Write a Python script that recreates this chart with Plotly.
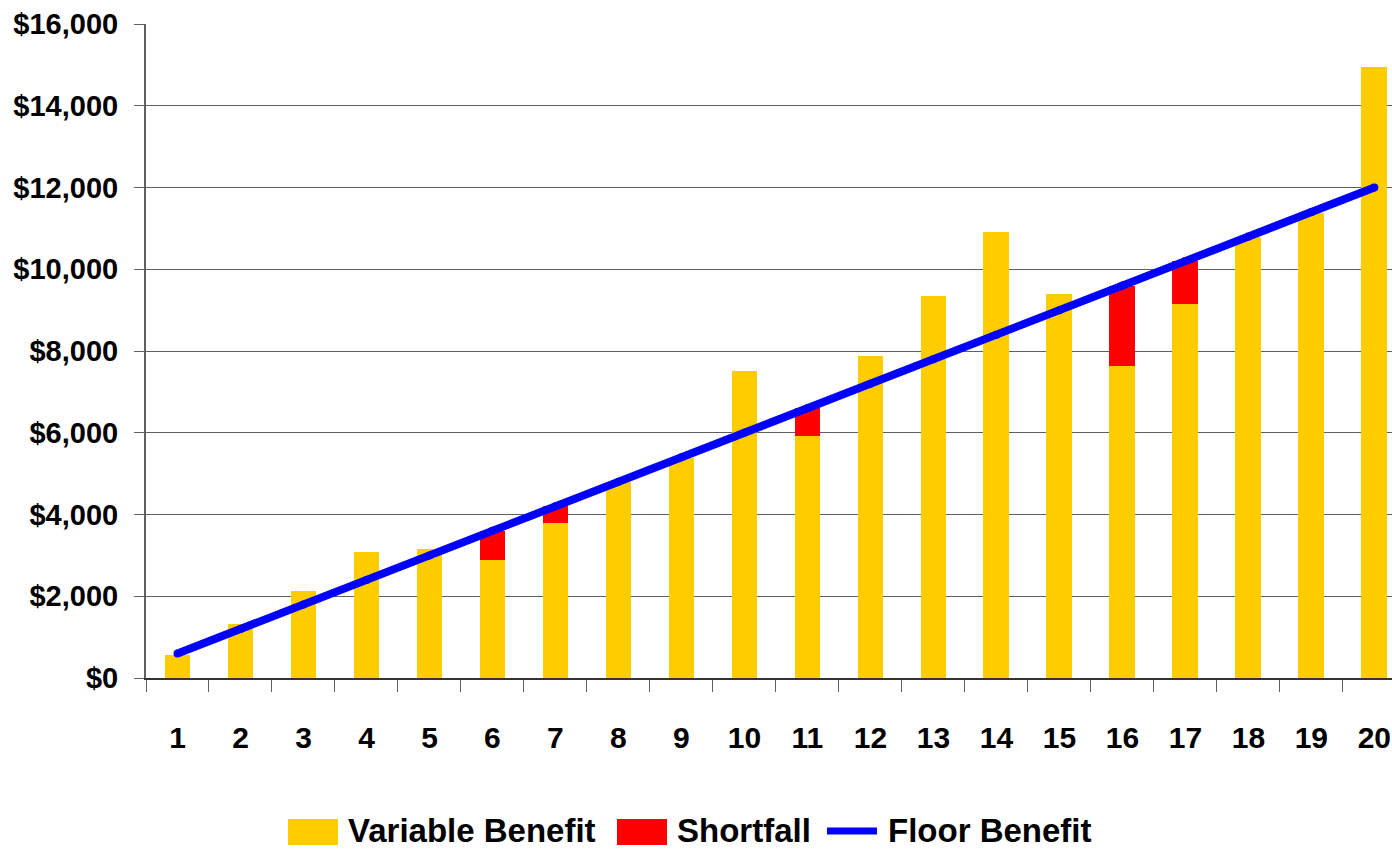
import plotly.graph_objects as go

# Benefit schedule by year
years = [str(i) for i in range(1, 21)]
floor_benefit = [600, 1200, 1800, 2400, 3000, 3600, 4200, 4800, 5400, 6000,
                 6600, 7200, 7800, 8400, 9000, 9600, 10200, 10800, 11400, 12000]
variable_benefit = [560, 1320, 2130, 3080, 3150, 2890, 3780, 4790, 5380, 7520,
                    5930, 7880, 9350, 10910, 9400, 7640, 9150, 10780, 11380, 14950]
shortfall = [0, 0, 0, 0, 0, 710, 420, 0, 0, 0,
             670, 0, 0, 0, 0, 1960, 1050, 0, 0, 0]

YELLOW = "#FFCC00"
RED = "#FF0000"
BLUE = "#0000FF"
GRID = "#606060"

W, H = 1392, 849
ML, MT, MB, MR = 146, 24, 171, 0
PW, PH = W - ML - MR, H - MT - MB

FONT = "Liberation Sans, Arial, sans-serif"


def px(xp):
    return (xp - ML) / PW


def py(yp):
    return (H - MB - yp) / PH


fig = go.Figure()
fig.add_trace(go.Bar(x=years, y=variable_benefit, name="Variable Benefit",
                     marker=dict(color=YELLOW, line=dict(width=0)), width=0.41))
fig.add_trace(go.Bar(x=years, y=shortfall, name="Shortfall",
                     marker=dict(color=RED, line=dict(width=0)), width=0.41))
fig.add_trace(go.Scatter(x=years, y=floor_benefit, name="Floor Benefit",
                         mode="lines+markers",
                         line=dict(color=BLUE, width=8),
                         marker=dict(color=BLUE, size=8)))

# Custom legend row below the plot
shapes = [
    dict(type="rect", xref="paper", yref="paper",
         x0=px(288), x1=px(338), y0=py(845), y1=py(819),
         fillcolor=YELLOW, line=dict(width=0)),
    dict(type="rect", xref="paper", yref="paper",
         x0=px(617), x1=px(667), y0=py(845), y1=py(819),
         fillcolor=RED, line=dict(width=0)),
    dict(type="line", xref="paper", yref="paper",
         x0=px(827), x1=px(877), y0=py(831), y1=py(831),
         line=dict(color=BLUE, width=7)),
]
legend_font = dict(family=FONT, size=33, color="black", weight="bold")
annotations = [
    dict(text=t, xref="paper", yref="paper", x=px(x0), y=py(830),
         xanchor="left", yanchor="middle", showarrow=False, font=legend_font)
    for t, x0 in [("Variable Benefit", 346), ("Shortfall", 675), ("Floor Benefit", 886)]
]

fig.update_layout(
    width=W, height=H,
    margin=dict(l=ML, r=MR, t=MT, b=MB, pad=0),
    barmode="stack",
    showlegend=False,
    plot_bgcolor="white",
    paper_bgcolor="white",
    shapes=shapes,
    annotations=annotations,
    xaxis=dict(
        type="category",
        range=[-0.5, 19.28],
        tickson="boundaries",
        ticks="outside", ticklen=12, tickcolor=GRID, tickwidth=1,
        showline=True, linecolor="#333333", linewidth=2,
        showgrid=False,
        tickfont=dict(family=FONT, size=30, color="black", weight="bold"),
        ticklabelstandoff=32,
    ),
    yaxis=dict(
        range=[0, 16000], dtick=2000,
        tickprefix="$", tickformat=",d",
        ticks="outside", ticklen=10, tickcolor=GRID, tickwidth=1,
        showline=True, linecolor=GRID, linewidth=2,
        showgrid=True, gridcolor=GRID, gridwidth=1,
        zeroline=False,
        tickfont=dict(family=FONT, size=29, color="black", weight="bold"),
        ticklabelstandoff=10,
    ),
)

fig.write_html("out.html")
